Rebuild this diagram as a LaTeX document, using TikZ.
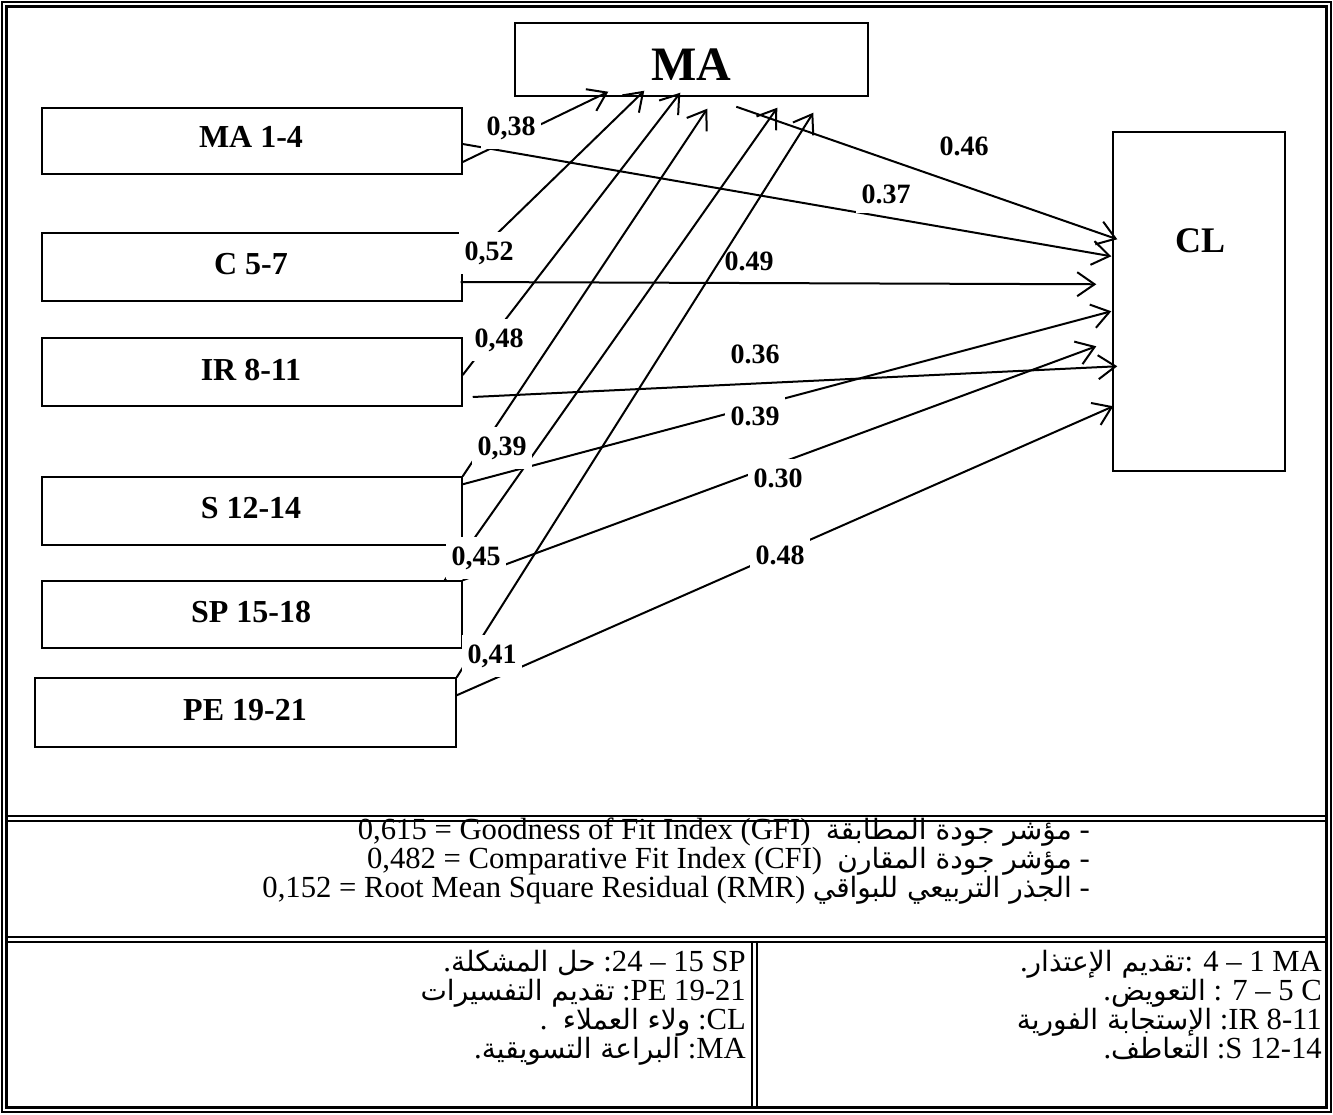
\documentclass[tikz,border=0pt]{standalone}
\usepackage{fontspec}
\setmainfont{Liberation Serif}
\newfontfamily\arfont[Script=Arabic]{DejaVu Sans}
\TeXXeTstate=1
\usetikzlibrary{arrows.meta,calc}
\newcommand\AR[1]{{\arfont\fontsize{21}{21}\selectfont\beginR #1\endR}}
\begin{document}
\begin{tikzpicture}[x=0.75pt,y=-0.75pt,
  box/.style={draw, line width=1.1pt, inner sep=0pt},
  boxtext/.style={font=\bfseries\fontsize{24}{24}\selectfont, anchor=base, inner sep=0pt},
  conn/.style={line width=1.5pt, -{Straight Barb[length=13pt,width=18pt,line width=1.5pt]}},
  lbl/.style={font=\bfseries\fontsize{21}{21}\selectfont, anchor=base, fill=white, inner xsep=4pt, inner ysep=7pt},
  rowe/.style={font=\fontsize{23}{23}\selectfont, anchor=base east, inner sep=0pt},
  frameline/.style={line width=1.1pt}
]
\useasboundingbox (0,0) rectangle (1333,1114);
% frame
\draw[frameline] (2,2) rectangle (1331,1112);
\draw[line width=1.6pt] (6.5,6.5) rectangle (1326.5,1107.5);
\draw[frameline] (6.5,816) -- (1326.5,816);
\draw[frameline] (6.5,821) -- (1326.5,821);
\draw[line width=1.6pt] (6.5,937) -- (1326.5,937);
\draw[line width=1.6pt] (6.5,942) -- (1326.5,942);
\draw[frameline] (752,942) -- (752,1107.5);
\draw[frameline] (757,942) -- (757,1107.5);

% boxes
\node[box, minimum width=264.75pt, minimum height=54.75pt] (MA) at (691.5,59.5) {};
\node[box, minimum width=315pt, minimum height=49.5pt] (MA14) at (252,141) {};
\node[box, minimum width=315pt, minimum height=51pt] (C57) at (252,267) {};
\node[box, minimum width=315pt, minimum height=51pt] (IR) at (252,372) {};
\node[box, minimum width=315pt, minimum height=51pt] (S) at (252,511) {};
\node[box, minimum width=315pt, minimum height=50.25pt] (SP) at (252,614.5) {};
\node[box, minimum width=315.75pt, minimum height=51.75pt] (PE) at (245.5,712.5) {};
\node[box, minimum width=129pt, minimum height=254.25pt] (CL) at (1199,301.5) {};

\node[boxtext, font=\bfseries\fontsize{36}{36}\selectfont] (tMA) at (691,80) {MA};
\node[boxtext] (tMA14) at (251,147) {MA 1-4};
\node[boxtext] (tC57) at (251,274) {C 5-7};
\node[boxtext] (tIR) at (251,380) {IR 8-11};
\node[boxtext] (tS) at (251,518) {S 12-14};
\node[boxtext] (tSP) at (251,622) {SP 15-18};
\node[boxtext] (tPE) at (245,720) {PE 19-21};
\node[boxtext, font=\bfseries\fontsize{27}{27}\selectfont] (tCL) at (1200,252) {CL};

% arrow end points
\coordinate (mt1) at ($(MA.south west)+(94,-5)$);
\coordinate (mt2) at ($(MA.south west)+(130,-6)$);
\coordinate (mt3) at ($(MA.south west)+(166,-4)$);
\coordinate (mt4) at ($(MA.south west)+(193,12)$);
\coordinate (mt5) at ($(MA.south west)+(263,11)$);
\coordinate (mt6) at ($(MA.south west)+(299,16)$);
\coordinate (ct1) at ($(CL.north west)+(5,108)$);
\coordinate (ct2) at ($(CL.north west)+(-1,125)$);
\coordinate (ct3) at ($(CL.north west)+(-16,153)$);
\coordinate (ct4) at ($(CL.north west)+(-1,180)$);
\coordinate (ct5) at ($(CL.north west)+(-16,215)$);
\coordinate (ct6) at ($(CL.north west)+(5,235)$);
\coordinate (ct7) at ($(CL.north west)+(1,275)$);

% connectors to MA
\draw[conn] ($(MA14.east)+(0,21)$) -- (mt1);
\draw[conn] (C57.east) -- (mt2);
\draw[conn] ($(IR.east)+(0,3)$) -- (mt3);
\draw[conn] (S.north east) -- (mt4);
\draw[conn] ($(SP.north east)+(-18,0)$) -- (mt5);
\draw[conn] (PE.north east) -- (mt6);
% connectors to CL
\draw[conn] ($(MA.south west)+(222,10)$) -- (ct1);
\draw[conn] ($(MA14.east)+(0,3)$) -- (ct2);
\draw[conn] ($(C57.east)+(-2,15)$) -- (ct3);
\draw[conn] ($(S.north east)+(0,8)$) -- (ct4);
\draw[conn] (SP.north east) -- (ct5);
\draw[conn] ($(IR.east)+(10,25)$) -- (ct6);
\draw[conn] ($(PE.north east)+(0,18)$) -- (ct7);

% path labels
\node[lbl] (l038) at (511,135) {0,38};
\node[lbl] (l052) at (489,260) {0,52};
\node[lbl] (l048) at (499,347) {0,48};
\node[lbl] (l039a) at (502,455) {0,39};
\node[lbl] (l045) at (476,565) {0,45};
\node[lbl] (l041) at (492,663) {0,41};
\node[lbl] (l046) at (964,155) {0.46};
\node[lbl] (l037) at (886,203) {0.37};
\node[lbl, fill=none] (l049) at (749,270) {0.49};
\node[lbl, fill=none] (l036) at (755,363) {0.36};
\node[lbl] (l039b) at (755,425) {0.39};
\node[lbl] (l030) at (778,487) {0.30};
\node[lbl] (l048b) at (780,564) {0.48};

% fit indices
\node[rowe] (f1) at (1090,839) {0,615 = Goodness of Fit Index (GFI)\ \ \AR{مؤشر جودة المطابقة}\ -};
\node[rowe] (f2) at (1090,868) {0,482 = Comparative Fit Index (CFI)\ \ \AR{مؤشر جودة المقارن}\ -};
\node[rowe] (f3) at (1090,897) {0,152 = Root Mean Square Residual (RMR)\ \AR{الجذر التربيعي للبواقي}\ -};

% legend
\node[rowe] (r1) at (1322,971) {.\AR{تقديم الإعتذار}: 4 – 1 MA};
\node[rowe] (r2) at (1322,1000) {.\AR{التعويض} : 7 – 5 C};
\node[rowe] (r3) at (1322,1029) {\AR{الإستجابة الفورية} :IR 8-11};
\node[rowe] (r4) at (1322,1058) {.\AR{التعاطف} :S 12-14};
\node[rowe] (q1) at (746,971) {.\AR{حل المشكلة} :24 – 15 SP};
\node[rowe] (q2) at (746,1000) {\AR{تقديم التفسيرات} :PE 19-21};
\node[rowe] (q3) at (746,1029) {.\ \ \AR{ولاء العملاء} :CL};
\node[rowe] (q4) at (746,1058) {.\AR{البراعة التسويقية} :MA};
\end{tikzpicture}
\end{document}
